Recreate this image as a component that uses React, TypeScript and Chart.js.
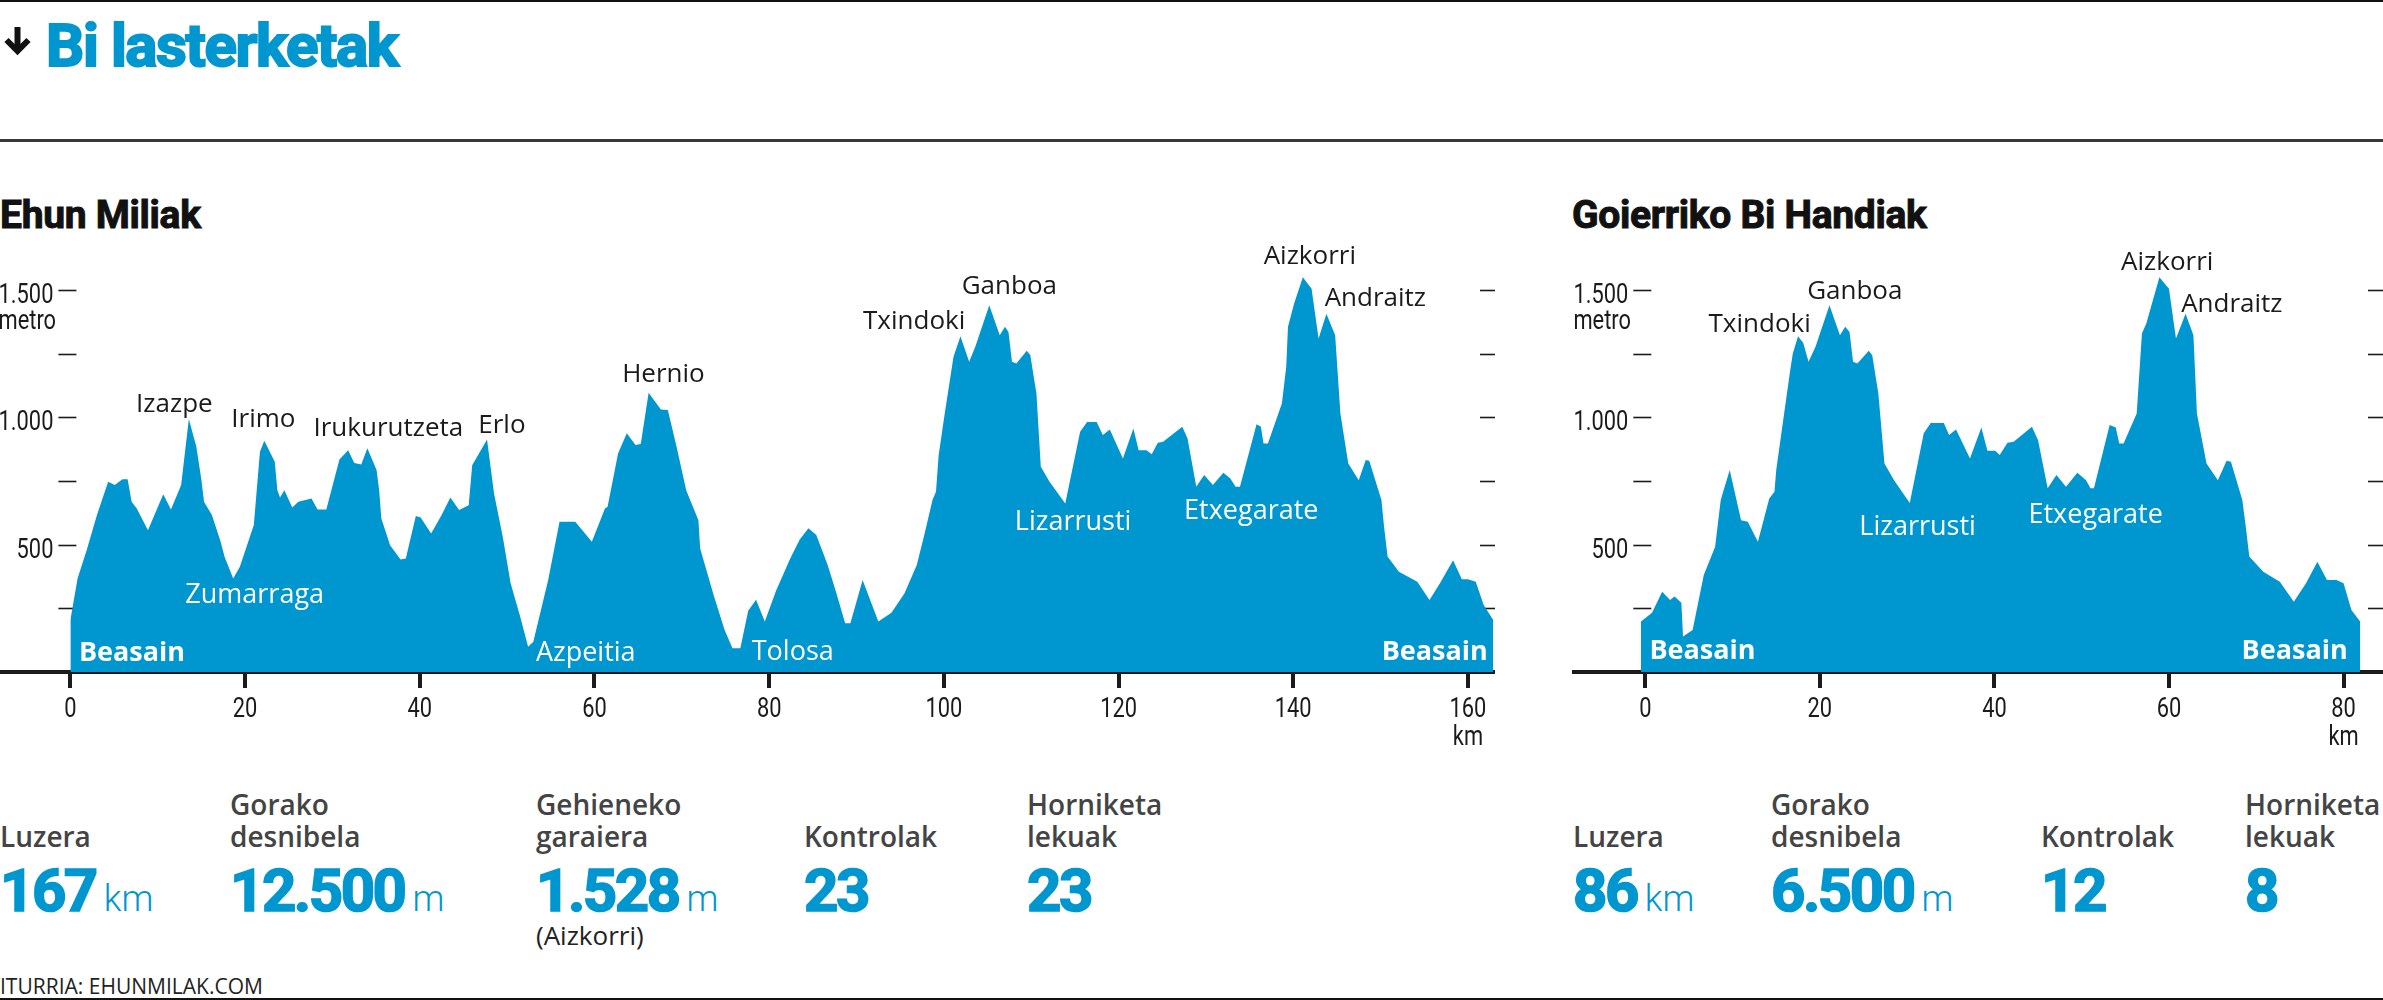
import React, { useEffect, useRef } from 'react';
import { Chart, registerables } from 'chart.js';

Chart.register(...registerables);

// ---------- data ----------
const ehunKm = [0, 0.82, 1.87, 3.04, 4.32, 5.08, 5.96, 6.55, 7.01, 7.6, 8.88, 10.63, 11.51, 12.68, 13.56, 14.42, 15.0, 15.3, 16.2, 17.2, 17.65, 18.64, 19.4, 20.3, 21.0, 21.7, 22.2, 23.4, 23.7, 24.0, 24.5, 25.4, 26.1, 27.6, 28.3, 29.3, 30.8, 31.8, 32.5, 33.3, 34.0, 35.05, 35.35, 35.6, 36.6, 37.8, 38.4, 39.55, 40.1, 41.3, 42.5, 43.5, 44.5, 45.6, 46.0, 47.7, 48.5, 49.5, 50.4, 51.5, 52.4, 53.0, 54.7, 56.0, 57.8, 59.7, 61.2, 61.5, 62.7, 63.7, 64.7, 65.3, 66.2, 67.6, 68.4, 69.4, 70.5, 71.9, 72.1, 73.7, 74.9, 75.8, 76.7, 77.6, 78.5, 79.5, 80.8, 82.4, 83.5, 84.5, 85.4, 86.7, 87.7, 88.7, 89.3, 90.7, 92.5, 94.0, 95.5, 96.9, 97.8, 98.7, 99.1, 99.4, 100.1, 101.1, 101.9, 102.9, 103.6, 105.2, 106.4, 107.0, 107.4, 107.8, 108.3, 109.5, 109.9, 110.6, 111.1, 112.1, 113.9, 115.6, 116.4, 117.5, 118.2, 119.0, 120.5, 121.7, 122.3, 123.2, 123.8, 124.5, 125.1, 127.3, 127.9, 128.9, 129.8, 130.8, 132.0, 132.8, 133.4, 133.9, 135.8, 136.3, 136.6, 137.1, 138.7, 139.2, 139.4, 140.1, 141.1, 142.1, 142.9, 143.8, 144.8, 145.4, 146.3, 147.5, 148.3, 148.7, 150.1, 150.4, 150.8, 152.1, 154.2, 155.6, 156.8, 158.3, 159.3, 160.0, 160.9, 161.8, 162.9];
const ehunElev = [204, 367, 479, 616, 747, 734, 757, 757, 668, 642, 557, 698, 638, 734, 993, 884, 754, 668, 616, 511, 452, 367, 413, 505, 577, 865, 908, 825, 714, 685, 714, 646, 668, 681, 638, 638, 834, 871, 821, 815, 878, 793, 714, 603, 498, 442, 446, 612, 607, 544, 616, 685, 636, 655, 812, 913, 701, 531, 348, 217, 99, 119, 361, 590, 590, 511, 642, 649, 858, 937, 891, 895, 1096, 1031, 1029, 884, 714, 596, 485, 295, 165, 93, 93, 240, 284, 198, 320, 445, 520, 564, 538, 420, 309, 191, 191, 361, 198, 233, 309, 420, 544, 675, 708, 850, 1015, 1237, 1318, 1218, 1277, 1440, 1322, 1355, 1335, 1218, 1211, 1261, 1244, 1093, 806, 747, 662, 943, 982, 982, 930, 952, 838, 956, 871, 871, 855, 900, 904, 963, 917, 727, 773, 734, 782, 760, 727, 727, 973, 963, 897, 897, 1054, 1198, 1355, 1447, 1550, 1505, 1309, 1407, 1322, 1015, 819, 753, 832, 829, 675, 570, 453, 394, 354, 283, 348, 439, 364, 364, 354, 263, 204];

const goiKm = [-0.5, 0.77, 1.93, 2.83, 3.35, 4.13, 4.32, 5.42, 6.7, 8.0, 8.64, 9.67, 10.97, 11.74, 12.9, 14.2, 14.8, 15.0, 16.6, 16.9, 17.5, 18.1, 18.7, 19.5, 21.1, 22.3, 22.9, 23.4, 23.8, 24.3, 25.6, 26.0, 26.7, 27.4, 28.5, 30.3, 31.9, 32.7, 34.2, 34.8, 35.6, 37.2, 38.5, 39.2, 40.1, 40.6, 41.5, 42.2, 44.3, 45.0, 46.1, 47.1, 48.2, 49.5, 50.5, 51.0, 51.4, 53.2, 53.9, 54.3, 54.8, 56.3, 56.9, 57.4, 58.9, 60.0, 60.8, 61.9, 62.8, 63.2, 64.3, 65.6, 66.6, 67.1, 68.4, 68.8, 69.2, 70.8, 72.7, 74.3, 75.7, 77.0, 78.1, 79.2, 80.0, 80.9, 81.9];
const goiElev = [198, 233, 315, 283, 296, 272, 139, 165, 381, 492, 675, 793, 596, 590, 511, 681, 708, 793, 1185, 1250, 1318, 1292, 1218, 1277, 1440, 1322, 1355, 1335, 1218, 1211, 1261, 1244, 1093, 819, 753, 664, 937, 978, 978, 930, 952, 838, 960, 869, 869, 852, 900, 904, 963, 910, 721, 773, 727, 782, 753, 721, 721, 970, 960, 897, 897, 1015, 1329, 1368, 1550, 1505, 1309, 1407, 1322, 1015, 819, 753, 829, 825, 675, 570, 453, 394, 354, 276, 348, 433, 361, 361, 348, 243, 198];

const ehunXTicks = [0, 20, 40, 60, 80, 100, 120, 140, 160];
const goiXTicks = [0, 20, 40, 60, 80];
const yTickValues = [250, 500, 750, 1000, 1250, 1500];
const yTickLabels = ['', '500', '', '1.000', '', '1.500'];
const yUnitLabel = 'metro';
const xUnitLabel = 'km';

const ehunPeakNames = ['Izazpe', 'Irimo', 'Irukurutzeta', 'Erlo', 'Hernio', 'Txindoki', 'Ganboa', 'Aizkorri', 'Andraitz'];
const ehunPeakKm = [11.9, 22.1, 36.4, 49.4, 67.9, 96.6, 107.5, 141.9, 149.4];
const ehunPeakM = [1056, 997, 962, 977, 1177, 1385, 1519, 1640, 1472];
const ehunPlaceNames = ['Beasain', 'Zumarraga', 'Azpeitia', 'Tolosa', 'Lizarrusti', 'Etxegarate', 'Beasain'];
const ehunPlaceKm = [7.05, 21.1, 59.0, 82.7, 114.8, 135.2, 156.2];
const ehunPlaceM = [82, 310, 82, 86, 597, 640, 86];
const ehunPlaceBold = [true, false, false, false, false, false, true];

const goiPeakNames = ['Txindoki', 'Ganboa', 'Aizkorri', 'Andraitz'];
const goiPeakKm = [13.1, 24.0, 59.8, 67.2];
const goiPeakM = [1370, 1503, 1617, 1452];
const goiPlaceNames = ['Beasain', 'Lizarrusti', 'Etxegarate', 'Beasain'];
const goiPlaceKm = [6.55, 31.2, 51.6, 74.4];
const goiPlaceM = [90, 577, 624, 90];
const goiPlaceBold = [true, false, false, true];

const ehunStatLabels = [['', 'Luzera'], ['Gorako', 'desnibela'], ['Gehieneko', 'garaiera'], ['', 'Kontrolak'], ['Horniketa', 'lekuak']];
const ehunStatValues = ['167', '12.500', '1.528', '23', '23'];
const ehunStatUnits = ['km', 'm', 'm', '', ''];
const ehunStatNotes = ['', '', '(Aizkorri)', '', ''];
const goiStatLabels = [['', 'Luzera'], ['Gorako', 'desnibela'], ['', 'Kontrolak'], ['Horniketa', 'lekuak']];
const goiStatValues = ['86', '6.500', '12', '8'];
const goiStatUnits = ['km', 'm', '', ''];
const goiStatNotes = ['', '', '', ''];

const mainTitle = 'Bi lasterketak';
const ehunTitle = 'Ehun Miliak';
const goiTitle = 'Goierriko Bi Handiak';
const sourceText = 'ITURRIA: EHUNMILAK.COM';

// ---------- layout / style ----------
const BLUE = '#0096cf';
const INK = '#1b1b1b';
const SANS = "'Open Sans', 'Noto Sans', sans-serif";
const HEAD = "Roboto, 'Noto Sans', sans-serif";
const FAMS: Record<string, string> = { head: HEAD, sans: SANS };
const BASE_K: Record<string, number> = { head: 0.842, sans: 0.888 };
const COND = 0.78; // horizontal squeeze for the condensed axis lettering
const AXIS_FONT = `28px ${HEAD}`;

const ehunStatX = [0, 230, 536, 804, 1027];
const goiStatX = [1573, 1771, 2041, 2245];

type TxtProps = { x: number; base: number; size: number; fam: string; weight?: number; color?: string; ls?: number; stroke?: number; children: React.ReactNode };
function Txt({ x, base, size, fam, weight = 400, color = INK, ls = 0, stroke = 0, children }: TxtProps) {
  const style: any = { position: 'absolute', left: x, top: base - BASE_K[fam] * size, fontFamily: FAMS[fam], fontSize: size, fontWeight: weight, color, lineHeight: 1, whiteSpace: 'nowrap', letterSpacing: ls };
  if (stroke) style.WebkitTextStroke = `${stroke}px ${color}`;
  return <div style={style}>{children}</div>;
}

function condText(ctx: CanvasRenderingContext2D, text: string, x: number, y: number, align: CanvasTextAlign) {
  ctx.save();
  ctx.translate(x, y);
  ctx.scale(COND, 1);
  ctx.textAlign = align;
  ctx.fillText(text, 0, 0);
  ctx.restore();
}

type ProfileProps = {
  left: number; top: number; width: number; height: number;
  kms: number[]; elevs: number[]; xMin: number; xMax: number; xTicks: number[];
  peakNames: string[]; peakKm: number[]; peakM: number[];
  placeNames: string[]; placeKm: number[]; placeM: number[]; placeBold: boolean[];
};

function Profile(p: ProfileProps) {
  const ref = useRef<HTMLCanvasElement>(null);
  useEffect(() => {
    const deco = {
      id: 'deco',
      beforeDatasetsDraw(chart: any) {
        const { ctx, chartArea } = chart;
        const xs = chart.scales.x;
        const ys = chart.scales.y;
        const x0 = xs.getPixelForValue(0);
        ctx.save();
        ctx.strokeStyle = INK;
        ctx.fillStyle = INK;
        ctx.lineWidth = 1.6;
        ctx.font = AXIS_FONT;
        ctx.textBaseline = 'alphabetic';
        yTickValues.forEach((v, i) => {
          const y = Math.round(ys.getPixelForValue(v)) + 0.5;
          ctx.beginPath(); ctx.moveTo(x0 - 12, y); ctx.lineTo(x0 + 6, y); ctx.stroke();
          ctx.beginPath(); ctx.moveTo(chartArea.right - 15, y); ctx.lineTo(chartArea.right, y); ctx.stroke();
          if (yTickLabels[i]) condText(ctx, yTickLabels[i], x0 - 17, y + 12, 'right');
        });
        const last = yTickValues.length - 1;
        const w = ctx.measureText(yTickLabels[last]).width * COND;
        condText(ctx, yUnitLabel, x0 - 17 - w, ys.getPixelForValue(yTickValues[last]) + 39, 'left');
        ctx.restore();
      },
      afterDatasetsDraw(chart: any) {
        const { ctx, chartArea } = chart;
        const xs = chart.scales.x;
        const ys = chart.scales.y;
        ctx.save();
        ctx.textBaseline = 'alphabetic';
        // x tick labels from the scale's ticks
        ctx.fillStyle = INK;
        ctx.font = AXIS_FONT;
        const ticks = xs.ticks;
        ticks.forEach((t: any, i: number) => {
          const px = xs.getPixelForValue(t.value);
          condText(ctx, String(t.value), px, chartArea.bottom + 45, 'center');
          if (i === ticks.length - 1) condText(ctx, xUnitLabel, px, chartArea.bottom + 73, 'center');
        });
        // place names
        ctx.textAlign = 'center';
        ctx.font = `26px ${SANS}`;
        p.peakNames.forEach((n, i) => {
          ctx.fillText(n, xs.getPixelForValue(p.peakKm[i]), ys.getPixelForValue(p.peakM[i]) + 0.36 * 26);
        });
        ctx.fillStyle = '#ffffff';
        p.placeNames.forEach((n, i) => {
          ctx.font = p.placeBold[i] ? `700 27px ${SANS}` : `27px ${SANS}`;
          ctx.fillText(n, xs.getPixelForValue(p.placeKm[i]), ys.getPixelForValue(p.placeM[i]) + 0.36 * 27);
        });
        ctx.restore();
      },
    };
    const chart = new Chart(ref.current as HTMLCanvasElement, {
      type: 'line',
      data: {
        datasets: [{
          data: p.kms.map((k, i) => ({ x: k, y: p.elevs[i] })),
          fill: 'origin',
          backgroundColor: BLUE,
          borderWidth: 0,
          borderColor: BLUE,
          pointRadius: 0,
          tension: 0,
        }],
      },
      options: {
        animation: false,
        responsive: false,
        maintainAspectRatio: false,
        devicePixelRatio: 1,
        layout: { padding: { top: 9, left: 0, right: 0, bottom: 0 } },
        plugins: { legend: { display: false }, tooltip: { enabled: false } },
        scales: {
          x: {
            type: 'linear',
            min: p.xMin,
            max: p.xMax,
            z: 1,
            afterBuildTicks: (ax: any) => { ax.ticks = p.xTicks.map((v) => ({ value: v })); },
            afterFit: (ax: any) => { ax.height = 88; },
            grid: { drawOnChartArea: false, drawTicks: true, tickLength: 16, lineWidth: 4, color: INK },
            border: { display: true, width: 4, color: INK },
            ticks: { display: false, autoSkip: false },
          },
          y: {
            type: 'linear',
            min: 0,
            max: 1700,
            display: false,
          },
        },
      },
      plugins: [deco],
    } as any);
    return () => chart.destroy();
  }, []);
  return (
    <canvas ref={ref} width={p.width} height={p.height}
      style={{ position: 'absolute', left: p.left, top: p.top, width: p.width, height: p.height }} />
  );
}

function Stats({ xs, labels, values, units, notes }: { xs: number[]; labels: string[][]; values: string[]; units: string[]; notes: string[] }) {
  return (
    <>
      {xs.map((x, i) => (
        <React.Fragment key={i}>
          {labels[i][0] && <Txt x={x} base={815} size={28} fam="sans" weight={600} color="#444">{labels[i][0]}</Txt>}
          <Txt x={x} base={847} size={28} fam="sans" weight={600} color="#444">{labels[i][1]}</Txt>
          <Txt x={x} base={912} size={60} fam="head" weight={700} color={BLUE} ls={-2.5} stroke={1.6}>
            {values[i]}
            {units[i] && <span style={{ fontWeight: 300, fontSize: 36, letterSpacing: 0, marginLeft: 8, WebkitTextStroke: '0px' } as any}>{units[i]}</span>}
          </Txt>
          {notes[i] && <Txt x={x} base={945} size={26} fam="sans" color="#222">{notes[i]}</Txt>}
        </React.Fragment>
      ))}
    </>
  );
}

export default function App() {
  return (
    <div style={{ position: 'fixed', left: 0, top: 0, width: 2383, height: 1000, background: '#fff', overflow: 'hidden' }}>
      <div style={{ position: 'absolute', left: 0, top: 0, width: 2383, height: 2, background: '#111' }} />
      <svg width={40} height={60} style={{ position: 'absolute', left: 0, top: 0 }}>
        <path d="M17.5 27 L17.5 51" stroke="#111" strokeWidth={6} fill="none" />
        <path d="M6.5 40 L17.5 51 L28.5 40" stroke="#111" strokeWidth={6} fill="none" strokeLinejoin="miter" />
      </svg>
      <Txt x={46} base={67} size={60} fam="head" weight={700} color={BLUE} ls={-1.4} stroke={2}>{mainTitle}</Txt>
      <div style={{ position: 'absolute', left: 0, top: 139, width: 2383, height: 3, background: '#3a3a3a' }} />

      <Txt x={0} base={229} size={39} fam="head" weight={700} color="#111" ls={-0.3} stroke={1}>{ehunTitle}</Txt>
      <Txt x={1572} base={229} size={39} fam="head" weight={700} color="#111" ls={-0.3} stroke={1}>{goiTitle}</Txt>

      <Profile left={0} top={230} width={1495} height={530}
        kms={ehunKm} elevs={ehunElev} xMin={-8.06} xMax={163.1} xTicks={ehunXTicks}
        peakNames={ehunPeakNames} peakKm={ehunPeakKm} peakM={ehunPeakM}
        placeNames={ehunPlaceNames} placeKm={ehunPlaceKm} placeM={ehunPlaceM} placeBold={ehunPlaceBold} />
      <Profile left={1572} top={230} width={811} height={530}
        kms={goiKm} elevs={goiElev} xMin={-8.4} xMax={84.52} xTicks={goiXTicks}
        peakNames={goiPeakNames} peakKm={goiPeakKm} peakM={goiPeakM}
        placeNames={goiPlaceNames} placeKm={goiPlaceKm} placeM={goiPlaceM} placeBold={goiPlaceBold} />

      <Stats xs={ehunStatX} labels={ehunStatLabels} values={ehunStatValues} units={ehunStatUnits} notes={ehunStatNotes} />
      <Stats xs={goiStatX} labels={goiStatLabels} values={goiStatValues} units={goiStatUnits} notes={goiStatNotes} />

      <Txt x={0} base={995} size={21} fam="sans" color="#222">{sourceText}</Txt>
      <div style={{ position: 'absolute', left: 0, top: 998, width: 2383, height: 2, background: '#111' }} />
    </div>
  );
}
